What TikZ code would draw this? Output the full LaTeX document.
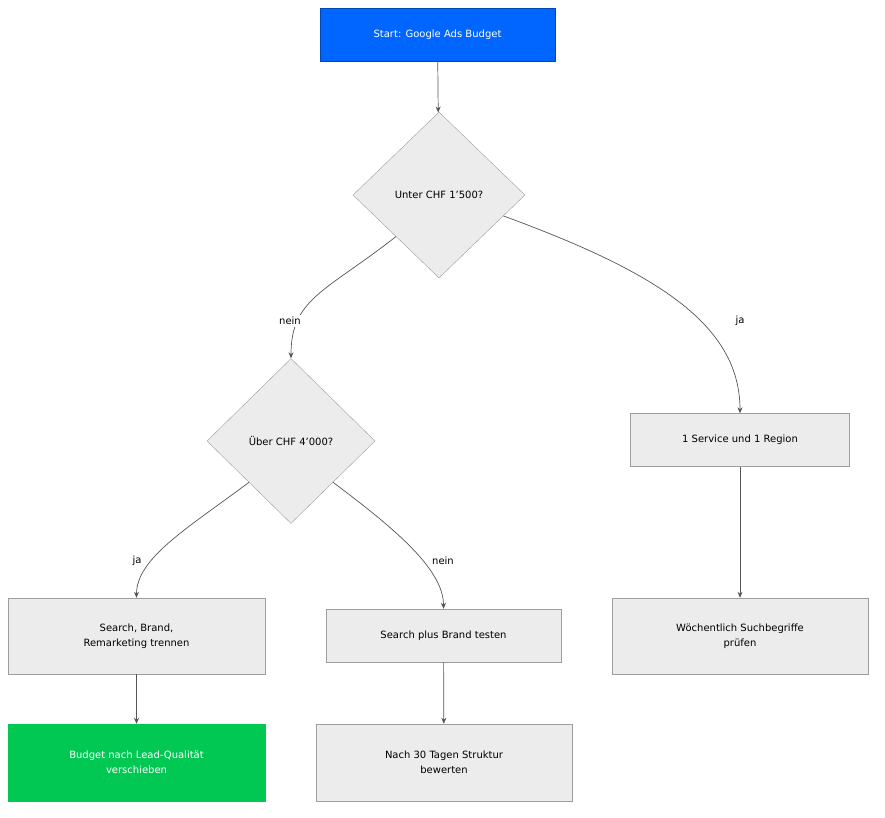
\documentclass[tikz,border=0pt]{standalone}
\usepackage{fontspec}
\setmainfont{DejaVu Sans}
\usetikzlibrary{shapes.geometric,arrows.meta}
\definecolor{boxfill}{HTML}{ECECEC}
\definecolor{boxline}{HTML}{9E9E9E}
\definecolor{startblue}{HTML}{0066FF}
\definecolor{endgreen}{HTML}{00C853}
\definecolor{arrowgray}{HTML}{555555}
\begin{document}
\begin{tikzpicture}[x=1pt,y=-1pt,
  font=\fontsize{10}{15}\selectfont,
  >={Stealth[length=6pt,width=5pt]},
  stepbox/.style={draw=boxline, fill=boxfill, align=center, inner sep=0pt},
  decision/.style={draw=boxline, fill=boxfill, diamond, aspect=1, inner sep=0pt},
  link/.style={->, draw=arrowgray, line width=0.7pt},
  edgelabel/.style={fill=white, inner sep=2pt}]
\useasboundingbox (0,0) rectangle (885,817);

% nodes
\node [stepbox, fill=startblue, draw=startblue!70!black, text=white,
       minimum width=235pt, minimum height=53pt] (start) at (437.5,34.5) {Start: Google Ads Budget};
\node [decision, minimum width=172pt, minimum height=166pt] (low) at (439,195) {Unter CHF 1'500?};
\node [decision, minimum width=168pt, minimum height=165pt] (high) at (291,441) {Über CHF 4'000?};
\node [stepbox, minimum width=219pt, minimum height=53pt] (single) at (740,440) {1 Service und 1 Region};
\node [stepbox, minimum width=257pt, minimum height=76pt] (split) at (136.5,636) {Search, Brand,\\Remarketing trennen};
\node [stepbox, minimum width=235pt, minimum height=53pt] (test) at (443.5,635.5) {Search plus Brand testen};
\node [stepbox, minimum width=256pt, minimum height=76pt] (weekly) at (740,636) {Wöchentlich Suchbegriffe\\prüfen};
\node [stepbox, fill=endgreen, draw=endgreen, text=white,
       minimum width=257pt, minimum height=77pt] (shift) at (136.5,762.5) {Budget nach Lead-Qualität\\verschieben};
\node [stepbox, minimum width=256pt, minimum height=77pt] (review) at (444,762.5) {Nach 30 Tagen Struktur\\bewerten};

% connectors
\draw [link] (start) -- (low);
\draw [link] (low.south west) .. controls +(-70,55) and +(0,-60) .. (high.north);
\draw [link] (low.-18) .. controls +(150,55) and +(0,-90) .. (single.north);
\draw [link] (high.south west) .. controls +(-60,45) and +(0,-40) .. (split.north);
\draw [link] (high.south east) .. controls +(60,45) and +(0,-40) .. (test.north);
\draw [link] (single) -- (weekly);
\draw [link] (split) -- (shift);
\draw [link] (test) -- (review);

% labels
\node [edgelabel] (l1) at (290,321) {nein};
\node [edgelabel] (l2) at (740,321) {ja};
\node [edgelabel] (l3) at (137,561) {ja};
\node [edgelabel] (l4) at (443,561) {nein};
\end{tikzpicture}
\end{document}
